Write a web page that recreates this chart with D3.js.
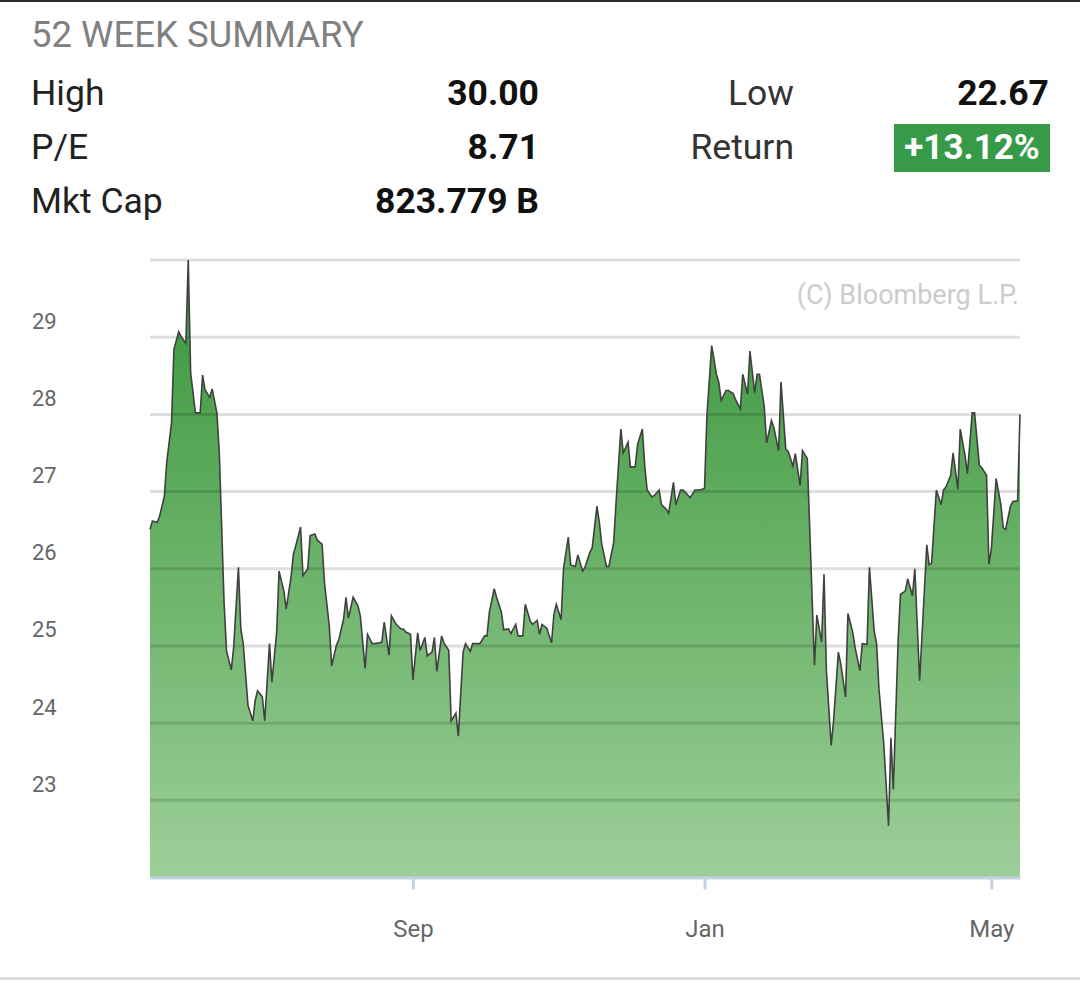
<!DOCTYPE html>
<html>
<head>
<meta charset="utf-8">
<script src="https://cdn.jsdelivr.net/npm/d3@7"></script>
<style>
  body { margin: 0; background: #fff; }
  svg { display: block; font-family: Roboto, "Noto Sans", sans-serif; }
</style>
</head>
<body>
<div id="chart"></div>
<script>
var width = 1080,
  height = 984;

var margin = { top: 260, right: 60, bottom: 106, left: 150 };

// 52 week summary figures
var summaryLeftLabels = ["High", "P/E", "Mkt Cap"];
var summaryLeftValues = ["30.00", "8.71", "823.779 B"];
var summaryRightLabels = ["Low", "Return"];
var summaryRightValues = ["22.67", "+13.12%"];

// daily closes
var dates = [
  "2018-05-14", "2018-05-15", "2018-05-17", "2018-05-18", "2018-05-20", "2018-05-21", "2018-05-23", "2018-05-24",
  "2018-05-26", "2018-05-27", "2018-05-29", "2018-05-30", "2018-05-31", "2018-06-02", "2018-06-04", "2018-06-05",
  "2018-06-06", "2018-06-08", "2018-06-09", "2018-06-11", "2018-06-12", "2018-06-14", "2018-06-15", "2018-06-17",
  "2018-06-18", "2018-06-20", "2018-06-21", "2018-06-22", "2018-06-24", "2018-06-26", "2018-06-27", "2018-06-28",
  "2018-06-30", "2018-07-01", "2018-07-03", "2018-07-04", "2018-07-06", "2018-07-07", "2018-07-09", "2018-07-10",
  "2018-07-12", "2018-07-13", "2018-07-14", "2018-07-16", "2018-07-17", "2018-07-19", "2018-07-20", "2018-07-22",
  "2018-07-23", "2018-07-25", "2018-07-26", "2018-07-28", "2018-07-29", "2018-07-31", "2018-08-01", "2018-08-03",
  "2018-08-04", "2018-08-05", "2018-08-07", "2018-08-09", "2018-08-10", "2018-08-12", "2018-08-13", "2018-08-15",
  "2018-08-16", "2018-08-18", "2018-08-19", "2018-08-20", "2018-08-22", "2018-08-23", "2018-08-25", "2018-08-27",
  "2018-08-28", "2018-08-29", "2018-08-31", "2018-09-01", "2018-09-03", "2018-09-04", "2018-09-06", "2018-09-07",
  "2018-09-09", "2018-09-10", "2018-09-11", "2018-09-13", "2018-09-14", "2018-09-16", "2018-09-17", "2018-09-19",
  "2018-09-20", "2018-09-22", "2018-09-23", "2018-09-25", "2018-09-26", "2018-09-28", "2018-09-29", "2018-10-01",
  "2018-10-02", "2018-10-03", "2018-10-05", "2018-10-06", "2018-10-08", "2018-10-09", "2018-10-11", "2018-10-12",
  "2018-10-14", "2018-10-15", "2018-10-17", "2018-10-18", "2018-10-20", "2018-10-21", "2018-10-23", "2018-10-24",
  "2018-10-25", "2018-10-27", "2018-10-29", "2018-10-30", "2018-10-31", "2018-11-02", "2018-11-03", "2018-11-05",
  "2018-11-06", "2018-11-08", "2018-11-09", "2018-11-11", "2018-11-12", "2018-11-14", "2018-11-15", "2018-11-17",
  "2018-11-18", "2018-11-19", "2018-11-21", "2018-11-22", "2018-11-24", "2018-11-25", "2018-11-27", "2018-11-28",
  "2018-11-30", "2018-12-01", "2018-12-03", "2018-12-04", "2018-12-06", "2018-12-07", "2018-12-08", "2018-12-10",
  "2018-12-11", "2018-12-13", "2018-12-14", "2018-12-16", "2018-12-17", "2018-12-19", "2018-12-20", "2018-12-22",
  "2018-12-23", "2018-12-24", "2018-12-26", "2018-12-28", "2018-12-29", "2018-12-30", "2019-01-01", "2019-01-02",
  "2019-01-04", "2019-01-06", "2019-01-07", "2019-01-08", "2019-01-10", "2019-01-11", "2019-01-13", "2019-01-14",
  "2019-01-16", "2019-01-17", "2019-01-19", "2019-01-20", "2019-01-22", "2019-01-23", "2019-01-24", "2019-01-26",
  "2019-01-27", "2019-01-29", "2019-01-30", "2019-02-01", "2019-02-02", "2019-02-04", "2019-02-05", "2019-02-07",
  "2019-02-08", "2019-02-10", "2019-02-11", "2019-02-13", "2019-02-16", "2019-02-17", "2019-02-19", "2019-02-20",
  "2019-02-21", "2019-02-23", "2019-02-24", "2019-02-26", "2019-02-27", "2019-03-01", "2019-03-02", "2019-03-04",
  "2019-03-05", "2019-03-07", "2019-03-08", "2019-03-10", "2019-03-11", "2019-03-13", "2019-03-14", "2019-03-15",
  "2019-03-17", "2019-03-19", "2019-03-20", "2019-03-21", "2019-03-23", "2019-03-24", "2019-03-26", "2019-03-27",
  "2019-03-29", "2019-03-30", "2019-04-01", "2019-04-04", "2019-04-05", "2019-04-06", "2019-04-08", "2019-04-10",
  "2019-04-11", "2019-04-12", "2019-04-14", "2019-04-15", "2019-04-17", "2019-04-18", "2019-04-20", "2019-04-21",
  "2019-04-23", "2019-04-24", "2019-04-26", "2019-04-27", "2019-04-29", "2019-04-30", "2019-05-01", "2019-05-03",
  "2019-05-05", "2019-05-06", "2019-05-07", "2019-05-09", "2019-05-10", "2019-05-12", "2019-05-13"
];

var prices = [
  26.51, 26.62, 26.60, 26.68, 26.94, 27.38, 27.89, 28.84,
  29.07, 29.01, 28.92, 30.00, 28.54, 28.02, 28.02, 28.51,
  28.32, 28.22, 28.33, 28.02, 27.50, 25.56, 24.94, 24.69,
  24.98, 26.02, 25.22, 25.03, 24.23, 24.03, 24.29, 24.42,
  24.34, 24.03, 25.03, 24.53, 25.18, 25.97, 25.71, 25.48,
  25.89, 26.19, 26.30, 26.54, 25.91, 26.00, 26.43, 26.45,
  26.37, 26.32, 25.82, 25.26, 24.74, 25.01, 25.08, 25.35,
  25.63, 25.36, 25.63, 25.52, 25.39, 24.71, 25.15, 25.03,
  25.03, 25.04, 25.05, 25.31, 24.88, 25.39, 25.28, 25.22,
  25.22, 25.18, 25.15, 24.56, 25.17, 24.94, 25.11, 24.87,
  24.92, 25.11, 24.67, 25.13, 25.04, 24.94, 24.03, 24.13,
  23.83, 24.92, 25.03, 24.93, 25.03, 25.03, 25.03, 25.13,
  25.13, 25.44, 25.74, 25.63, 25.44, 25.21, 25.22, 25.16,
  25.28, 25.13, 25.13, 25.54, 25.33, 25.28, 25.33, 25.15,
  25.28, 25.23, 25.04, 25.41, 25.54, 25.34, 26.00, 26.41,
  26.05, 26.03, 26.18, 25.97, 26.02, 26.21, 26.27, 26.81,
  26.60, 26.32, 26.03, 26.03, 26.34, 26.86, 27.81, 27.50,
  27.64, 27.32, 27.32, 27.61, 27.81, 27.33, 27.02, 26.93,
  26.95, 27.02, 26.83, 26.77, 26.72, 27.12, 26.83, 27.02,
  27.02, 26.99, 26.92, 27.02, 27.02, 27.02, 27.04, 27.98,
  28.89, 28.52, 28.41, 28.18, 28.31, 28.31, 28.27, 28.19,
  28.07, 28.52, 28.26, 28.82, 28.28, 28.52, 28.52, 28.10,
  27.63, 27.92, 27.83, 27.53, 28.42, 27.55, 27.52, 27.33,
  27.49, 27.08, 27.53, 27.43, 24.75, 25.40, 25.05, 25.93,
  24.68, 23.71, 24.03, 24.92, 24.77, 24.34, 25.42, 25.18,
  24.98, 24.68, 25.03, 25.02, 26.02, 25.19, 25.03, 24.44,
  23.73, 22.67, 23.81, 23.14, 25.06, 25.67, 25.71, 25.87,
  25.65, 26.00, 24.55, 26.31, 26.05, 26.07, 27.02, 26.83,
  27.02, 27.06, 27.21, 27.50, 27.03, 27.81, 27.47, 27.23,
  28.02, 28.02, 27.34, 27.31, 27.21, 26.06, 26.25, 27.17,
  26.83, 26.53, 26.51, 26.81, 26.87, 26.88, 28.00
];

var xDomain = ["2018-05-14", "2019-05-13"];
var xTickDates = ["2018-09-01", "2019-01-01", "2019-05-01"];
var yDomain = [22, 30];
var yGridValues = [23, 24, 25, 26, 27, 28, 29, 30];
var yLabelValues = [23, 24, 25, 26, 27, 28, 29];

var parseDate = d3.timeParse("%Y-%m-%d");

var data = dates.map(function(d, i) {
  return { date: parseDate(d), price: prices[i] };
});

//Create svg element
var svg = d3.select("#chart")
  .append("svg")
  .attr("width", width)
  .attr("height", height);

svg.append("rect")
  .attr("width", width)
  .attr("height", height)
  .attr("fill", "#ffffff");

// top and bottom rules
svg.append("rect")
  .attr("x", 0)
  .attr("y", 0)
  .attr("width", width)
  .attr("height", 2)
  .attr("fill", "#2b2b2b");

svg.append("rect")
  .attr("x", 0)
  .attr("y", 977)
  .attr("width", width)
  .attr("height", 3)
  .attr("fill", "#dddddd");

// Header
svg.append("text")
  .text("52 WEEK SUMMARY")
  .attr("x", 31)
  .attr("y", 34)
  .attr("dominant-baseline", "central")
  .style("font-size", "36.5px")
  .style("fill", "#808080");

var rowY = [93, 147, 201];

svg.selectAll(".left-label")
  .data(summaryLeftLabels)
  .enter()
  .append("text")
  .attr("class", "left-label")
  .text(d => d)
  .attr("x", 31)
  .attr("y", (d, i) => rowY[i])
  .attr("dominant-baseline", "central")
  .style("font-size", "35.5px")
  .style("fill", "#222");

svg.selectAll(".left-value")
  .data(summaryLeftValues)
  .enter()
  .append("text")
  .attr("class", "left-value")
  .text(d => d)
  .attr("x", 539)
  .attr("y", (d, i) => rowY[i])
  .attr("text-anchor", "end")
  .attr("dominant-baseline", "central")
  .style("font-size", "35.5px")
  .style("font-weight", "bold")
  .style("fill", "#111");

svg.selectAll(".right-label")
  .data(summaryRightLabels)
  .enter()
  .append("text")
  .attr("class", "right-label")
  .text(d => d)
  .attr("x", 794)
  .attr("y", (d, i) => rowY[i])
  .attr("text-anchor", "end")
  .attr("dominant-baseline", "central")
  .style("font-size", "35.5px")
  .style("fill", "#333");

// return badge
svg.append("rect")
  .attr("x", 894)
  .attr("y", 124)
  .attr("width", 156)
  .attr("height", 48)
  .attr("fill", "#379a49");

svg.selectAll(".right-value")
  .data(summaryRightValues)
  .enter()
  .append("text")
  .attr("class", "right-value")
  .text(d => d)
  .attr("x", (d, i) => i === 1 ? 972 : 1049)
  .attr("y", (d, i) => rowY[i])
  .attr("text-anchor", (d, i) => i === 1 ? "middle" : "end")
  .attr("dominant-baseline", "central")
  .style("font-size", (d, i) => i === 1 ? "35px" : "35.5px")
  .style("font-weight", "bold")
  .style("fill", (d, i) => i === 1 ? "#ffffff" : "#111");

// Add X scale
var xScale = d3.scaleTime()
  .domain(xDomain.map(parseDate))
  .range([margin.left, width - margin.right]);

// Add Y scale
var yScale = d3.scaleLinear()
  .domain(yDomain)
  .range([height - margin.bottom - 0.5, margin.top]);

// area gradient
var defs = svg.append("defs");
var grad = defs.append("linearGradient")
  .attr("id", "area-grad")
  .attr("gradientUnits", "userSpaceOnUse")
  .attr("x1", 0)
  .attr("x2", 0)
  .attr("y1", yScale(yDomain[1]))
  .attr("y2", yScale(yDomain[0]));
grad.append("stop").attr("offset", "0%").attr("stop-color", "#38963a");
grad.append("stop").attr("offset", "100%").attr("stop-color", "#9dcf99");

var area = d3.area()
  .x(d => xScale(d.date))
  .y0(yScale(yDomain[0]))
  .y1(d => yScale(d.price));

var line = d3.line()
  .x(d => xScale(d.date))
  .y(d => yScale(d.price));

svg.append("path")
  .datum(data)
  .attr("class", "area")
  .attr("d", area)
  .attr("fill", "url(#area-grad)");

// Render Y grid
svg.append("g")
  .attr("class", "grid")
  .selectAll("line")
  .data(yGridValues)
  .enter()
  .append("line")
  .attr("x1", margin.left)
  .attr("x2", width - margin.right)
  .attr("y1", d => yScale(d))
  .attr("y2", d => yScale(d))
  .style("stroke", "rgba(0,0,0,0.13)")
  .style("stroke-width", 3);

svg.append("path")
  .datum(data)
  .attr("class", "line")
  .attr("d", line)
  .attr("fill", "none")
  .style("stroke", "#404040")
  .style("stroke-width", 1.6)
  .style("stroke-linejoin", "miter");

// Y labels sit above their gridline
svg.append("g")
  .attr("class", "y-labels")
  .selectAll("text")
  .data(yLabelValues)
  .enter()
  .append("text")
  .text(d => d)
  .attr("x", 32)
  .attr("y", d => yScale(d) - 16)
  .attr("dominant-baseline", "central")
  .style("font-size", "22px")
  .style("fill", "#666");

svg.append("text")
  .text("(C) Bloomberg L.P.")
  .attr("x", 1019)
  .attr("y", 295)
  .attr("text-anchor", "end")
  .attr("dominant-baseline", "central")
  .style("font-size", "27px")
  .style("fill", "#cccccc");

// Define X axis
var xAxis = d3.axisBottom(xScale)
  .tickValues(xTickDates.map(parseDate))
  .tickFormat(d3.timeFormat("%b"))
  .tickSize(12)
  .tickSizeOuter(0);

//Render X axis
var xG = svg.append("g")
  .attr("class", "x-axis")
  .attr("transform", `translate(0,${yScale(yDomain[0])})`)
  .call(xAxis);

xG.select(".domain")
  .style("stroke", "#c3d2e3")
  .style("stroke-width", 3);

xG.selectAll(".tick line")
  .style("stroke", "#c3d2e3")
  .style("stroke-width", 3);

xG.selectAll(".tick text")
  .attr("y", 51)
  .attr("dy", "0.35em")
  .style("font-family", "Roboto, sans-serif")
  .style("font-size", "24px")
  .style("fill", "#666");
</script>
</body>
</html>
